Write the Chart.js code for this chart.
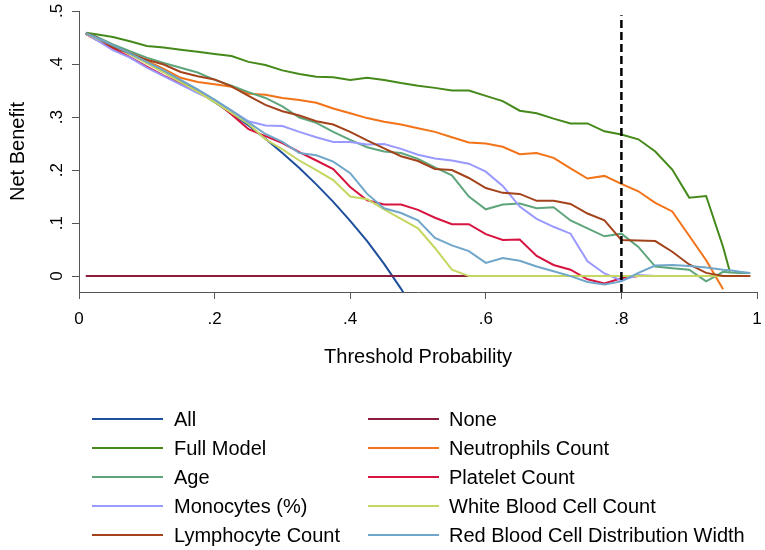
<!DOCTYPE html>
<html lang="en">
<head>
<meta charset="UTF-8">
<title>Decision curve analysis</title>
<script src="https://cdn.jsdelivr.net/npm/chart.js"></script>
<style>
  body { margin: 0; background: #fff; }
  #wrap { position: relative; width: 765px; height: 550px; font-family: Arial, "Liberation Sans", sans-serif; }
  .key { position: absolute; height: 2px; }
  .lab { position: absolute; font-size: 20px; line-height: 24px; color: #000; white-space: nowrap; }
</style>
</head>
<body>
<div id="wrap">
  <canvas id="dca" width="765" height="550"></canvas>
  <div id="legend"></div>
</div>
<script>
// threshold probabilities (x)
const thresholds = [0.01,0.025,0.05,0.075,0.1,0.125,0.15,0.175,0.2,0.225,
  0.25,0.275,0.3,0.325,0.35,0.375,0.4,0.425,0.45,0.475,
  0.5,0.525,0.55,0.575,0.6,0.625,0.65,0.675,0.7,0.725,
  0.75,0.775,0.8,0.825,0.85,0.875,0.9,0.925,0.95,0.96,0.975,0.99];

// net benefit per model (null = not drawn)
const nbAll = [.457,.449,.434,.419,.403,.386,.368,.349,.328,.307,
  .284,.259,.232,.204,.173,.140,.104,.066,.023,-.024,
  -.076,null,null,null,null,null,null,null,null,null,
  null,null,null,null,null,null,null,null,null,null,null,null];
const nbNone = [0,0,0,0,0,0,0,0,0,0, 0,0,0,0,0,0,0,0,0,0,
  0,0,0,0,0,0,0,0,0,0, 0,0,0,0,0,0,0,0,0,0,0,0];
const nbFull = [.459,.456,.451,.443,.434,.431,.427,.423,.419,.415,
  .404,.398,.388,.381,.376,.375,.370,.374,.370,.364,
  .359,.355,.350,.350,.340,.330,.312,.307,.297,.288,
  .288,.273,.267,.258,.235,.201,.148,.151,.055,.008,null,null];
const nbNeutro = [.458,.450,.436,.421,.406,.391,.374,.366,.362,.357,
  .344,.342,.336,.332,.327,.316,.307,.298,.291,.286,
  .279,.272,.262,.252,.250,.244,.230,.232,.223,.203,
  .184,.189,.174,.160,.138,.122,.076,.030,-.025,null,null,null];
const nbAge = [.458,.452,.437,.424,.412,.402,.393,.384,.370,.359,
  .347,.336,.320,.299,.289,.272,.257,.243,.235,.232,
  .221,.205,.190,.150,.126,.135,.137,.128,.130,.105,
  .090,.075,.080,.055,.018,.015,.012,-.010,.008,.007,.006,.006];
const nbPlatelet = [.457,.446,.430,.413,.395,.378,.363,.347,.331,.305,
  .277,.264,.251,.234,.218,.202,.168,.143,.135,.135,
  .125,.110,.098,.098,.079,.068,.069,.038,.021,.012,
  -.006,-.014,-.004,0,null,null,null,null,null,null,null,null];
const nbMono = [.458,.446,.426,.412,.393,.377,.361,.345,.331,.312,
  .292,.284,.283,.272,.262,.253,.253,.248,.249,.240,
  .229,.222,.218,.212,.197,.170,.131,.108,.093,.080,
  .028,.005,-.008,.002,0,null,null,null,null,null,null,null];
const nbWbc = [.457,.449,.434,.418,.401,.384,.366,.348,.328,.308,
  .287,.258,.239,.218,.200,.181,.150,.145,.126,.108,
  .090,.053,.012,0,0,0,0,0,0,0,
  0,0,0,0,0,0,0,0,0,null,null,null];
const nbLymph = [.458,.451,.432,.420,.408,.399,.385,.377,.371,.358,
  .340,.323,.311,.303,.292,.286,.272,.256,.241,.226,
  .217,.202,.200,.185,.166,.157,.155,.142,.142,.136,
  .118,.105,.068,.067,.066,.046,.022,.006,0,0,0,0];
const nbRdw = [.458,.450,.435,.420,.404,.388,.370,.352,.333,.312,
  .290,.268,.253,.232,.228,.216,.194,.155,.128,.119,
  .105,.072,.058,.047,.025,.034,.029,.018,.009,0,
  -.011,-.016,-.010,.006,.020,.021,.019,.016,.012,.011,.008,.006];

const seriesNames = ['All','None','Full Model','Neutrophils Count','Age','Platelet Count',
  'Monocytes (%)','White Blood Cell Count','Lymphocyte Count','Red Blood Cell Distribution Width'];
const seriesValues = [nbAll, nbNone, nbFull, nbNeutro, nbAge, nbPlatelet, nbMono, nbWbc, nbLymph, nbRdw];
const seriesColors = ['#1d4f9c','#8c1c3c','#44891a','#f27318','#5ea57c','#d7143f',
  '#9999ff','#c5d661','#a3431c','#6fa6c9'];

// cutoff marker
const cutoffX = [0.8, 0.8];
const cutoffY = [-0.03, 0.492];

const xTicks = [0, 0.2, 0.4, 0.6, 0.8, 1];
const xTickLabels = ['0', '.2', '.4', '.6', '.8', '1'];
const yTicks = [0, 0.1, 0.2, 0.3, 0.4, 0.5];
const yTickLabels = ['0', '.1', '.2', '.3', '.4', '.5'];

const FONT = 'Arial, "Liberation Sans", sans-serif';

const datasets = seriesValues.map((vals, i) => ({
  label: seriesNames[i],
  data: thresholds.map((t, j) => ({ x: t, y: vals[j] })).filter(p => p.y !== null),
  borderColor: seriesColors[i],
  borderWidth: 2,
  pointRadius: 0,
  tension: 0,
  fill: false,
  order: seriesValues.length - i + 1
}));
datasets.push({
  label: 'cutoff',
  data: cutoffX.map((x, i) => ({ x: x, y: cutoffY[i] })),
  borderColor: '#000',
  borderWidth: 2.5,
  borderDash: [8, 4],
  pointRadius: 0,
  fill: false,
  order: 0
});

// rotated y tick labels like the original
const yLabelsPlugin = {
  id: 'yLabels',
  afterDraw(chart) {
    const ys = chart.scales.y;
    const ctx = chart.ctx;
    ctx.save();
    ctx.font = '17px ' + FONT;
    ctx.fillStyle = '#000';
    ctx.textAlign = 'center';
    ctx.textBaseline = 'middle';
    yTicks.forEach((v, i) => {
      ctx.save();
      ctx.translate(57, ys.getPixelForValue(v));
      ctx.rotate(-Math.PI / 2);
      ctx.fillText(yTickLabels[i], 0, 0);
      ctx.restore();
    });
    ctx.restore();
  }
};

new Chart(document.getElementById('dca'), {
  type: 'line',
  data: { datasets },
  plugins: [yLabelsPlugin],
  options: {
    responsive: false,
    animation: false,
    layout: { padding: { top: 11, right: 8, bottom: 180, left: 0 } },
    plugins: { legend: { display: false }, tooltip: { enabled: false } },
    scales: {
      x: {
        type: 'linear',
        min: 0, max: 1,
        afterBuildTicks: s => { s.ticks = xTicks.map(v => ({ value: v })); },
        afterFit: s => { s.height = 78; s.paddingLeft = 0; s.paddingRight = 0; },
        ticks: {
          color: '#000',
          font: { family: FONT, size: 17 },
          padding: 10,
          maxRotation: 0,
          callback: (v) => xTickLabels[xTicks.indexOf(v)]
        },
        grid: { drawOnChartArea: false, tickLength: 7, color: '#555' },
        border: { color: '#555', width: 1 },
        title: { display: true, text: 'Threshold Probability', color: '#000',
          font: { family: FONT, size: 20 }, padding: { top: 0, bottom: 1 } }
      },
      y: {
        min: -0.03, max: 0.5,
        afterBuildTicks: s => { s.ticks = yTicks.map(v => ({ value: v })); },
        afterFit: s => { s.width = 79; },
        ticks: { display: false },
        grid: { drawOnChartArea: false, tickLength: 7, color: '#555' },
        border: { color: '#555', width: 1 },
        title: { display: true, text: 'Net Benefit', color: '#000',
          font: { family: FONT, size: 20 }, padding: { top: 6, bottom: 0 } }
      }
    }
  }
});

// legend in two columns
const legend = document.getElementById('legend');
seriesNames.forEach((name, i) => {
  const col = i % 2, row = Math.floor(i / 2);
  const cy = 419 + row * 29;
  const lineLeft = col === 0 ? 92 : 368;
  const textLeft = col === 0 ? 174 : 449;
  const key = document.createElement('div');
  key.className = 'key';
  key.style.left = lineLeft + 'px';
  key.style.top = (cy - 1) + 'px';
  key.style.width = '71px';
  key.style.background = seriesColors[i];
  legend.appendChild(key);
  const lab = document.createElement('div');
  lab.className = 'lab';
  lab.style.left = textLeft + 'px';
  lab.style.top = (cy - 12) + 'px';
  lab.textContent = name;
  legend.appendChild(lab);
});
</script>
</body>
</html>
